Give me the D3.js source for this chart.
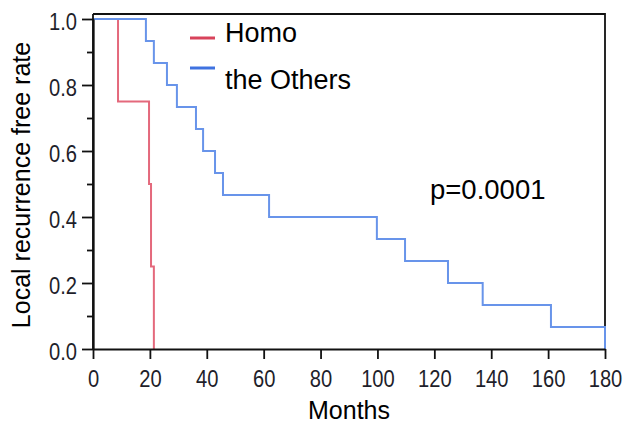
<!DOCTYPE html>
<html lang="en">
<head>
<meta charset="utf-8">
<script src="https://cdn.jsdelivr.net/npm/d3@7"></script>
<title>Local recurrence free rate</title>
<style>
  body { margin: 0; background: #fff; }
  text { font-family: "Liberation Sans", Arial, sans-serif; }
</style>
</head>
<body>
<svg width="626" height="425"></svg>
<script>
// Kaplan-Meier steps (months, rate)
var homoMonths   = [0, 8.8, 19.7, 20.4, 21.4];
var homoRate     = [1, 0.75, 0.5, 0.25, 0];
var othersMonths = [0, 18.6, 21.4, 26, 29.5, 36.2, 38.7, 42.9, 45.7, 61.9, 99.8, 109.7, 124.8, 137, 161, 180];
var othersRate   = [1, 0.933, 0.867, 0.8, 0.733, 0.667, 0.6, 0.533, 0.467, 0.4, 0.333, 0.267, 0.2, 0.133, 0.067, 0];
var xTicks = [0, 20, 40, 60, 80, 100, 120, 140, 160, 180];
var yTicks = [0, 0.2, 0.4, 0.6, 0.8, 1.0];
var yMinor = [0.1, 0.3, 0.5, 0.7, 0.9];
var seriesNames = ["Homo", "the Others"];
var pText = "p=0.0001";

var margin = {top: 14, right: 21, bottom: 76, left: 93};
var width = 626 - margin.left - margin.right;
var height = 425 - margin.top - margin.bottom;
var squeeze = 0.84; // tick labels are a condensed face

var svg = d3.select("svg")
  .append("g")
  .attr("transform", "translate(" + margin.left + "," + margin.top + ")");

var x = d3.scaleLinear().domain([0, 180]).range([0, width]);
var y = d3.scaleLinear().domain([0, 1]).range([height, 5]);

// box top + right
svg.append("path")
  .attr("d", "M0,0H" + width + "V" + height)
  .attr("fill", "none")
  .attr("stroke", "#111")
  .attr("stroke-width", 1.8);

var line = d3.line()
  .x(function(d) { return x(d[0]); })
  .y(function(d) { return y(d[1]); })
  .curve(d3.curveStepAfter);

var homo = homoMonths.map(function(m, i) { return [m, homoRate[i]]; });
var others = othersMonths.map(function(m, i) { return [m, othersRate[i]]; });

svg.append("path").datum(homo)
  .attr("d", line).attr("fill", "none")
  .attr("stroke", "#e4697c").attr("stroke-width", 2);
svg.append("path").datum(others)
  .attr("d", line).attr("fill", "none")
  .attr("stroke", "#6894ea").attr("stroke-width", 2);

// axes
var xAxis = svg.append("g")
  .attr("transform", "translate(0," + height + ")")
  .call(d3.axisBottom(x).tickValues(xTicks).tickSize(10).tickSizeOuter(0).tickPadding(11));
var yAxis = svg.append("g")
  .call(d3.axisLeft(y).tickValues(yTicks).tickFormat(d3.format(".1f")).tickSize(11).tickSizeOuter(0));
svg.append("g")
  .call(d3.axisLeft(y).tickValues(yMinor).tickFormat("").tickSize(6).tickSizeOuter(0));
svg.append("line").attr("x1", 0).attr("x2", 0).attr("y1", 0).attr("y2", height)
  .attr("stroke", "#111").attr("stroke-width", 1.8);

svg.selectAll(".domain").attr("stroke", "#111").attr("stroke-width", 1.8);
svg.selectAll(".tick line").attr("stroke", "#111").attr("stroke-width", 1.8);
svg.selectAll(".tick text")
  .attr("fill", "#1e1e2a")
  .style("font-family", "'Liberation Sans', Arial, sans-serif")
  .style("font-size", "24px");
xAxis.selectAll(".tick text")
  .attr("transform", "scale(" + squeeze + ",1)");
yAxis.selectAll(".tick text")
  .attr("x", -16 / squeeze)
  .attr("dy", "0.42em")
  .attr("transform", "scale(" + squeeze + ",1)");

// axis titles
svg.append("text")
  .attr("x", width / 2).attr("y", height + 70)
  .attr("text-anchor", "middle")
  .style("font-size", "25px")
  .text("Months");
svg.append("text")
  .attr("transform", "translate(-63,171) rotate(-90)")
  .attr("text-anchor", "middle")
  .style("font-size", "25px")
  .text("Local recurrence free rate");

// legend
var legendColors = ["#d8435b", "#3f72e0"];
var legendLineY = [24, 54];
var legendTextY = [28, 75];
seriesNames.forEach(function(name, i) {
  svg.append("line")
    .attr("x1", 97).attr("x2", 122)
    .attr("y1", legendLineY[i]).attr("y2", legendLineY[i])
    .attr("stroke", legendColors[i]).attr("stroke-width", 3);
  svg.append("text")
    .attr("x", 132).attr("y", legendTextY[i])
    .style("font-size", "27px")
    .text(name);
});

svg.append("text")
  .attr("x", 337).attr("y", 185)
  .style("font-size", "27.5px")
  .text(pText);
</script>
</body>
</html>
